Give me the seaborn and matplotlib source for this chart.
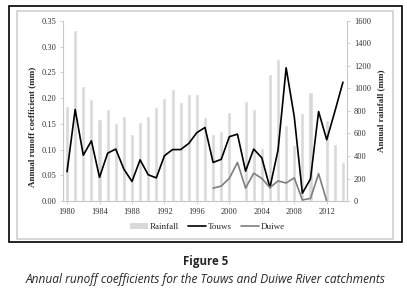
import numpy as np
import pandas as pd
import seaborn as sns
import matplotlib.pyplot as plt
from matplotlib.patches import Rectangle
from matplotlib.lines import Line2D

years = list(range(1980, 2015))
rainfall = [840, 1520, 1020, 910, 725, 815, 690, 755, 595, 705,
            755, 835, 915, 995, 880, 955, 950, 750, 595, 620,
            795, np.nan, 890, 815, 470, 1125, 1265, 675, 500, 780,
            970, np.nan, 720, 505, 345]
touws = [0.057, 0.178, 0.089, 0.117, 0.046, 0.093, 0.101, 0.062, 0.038, 0.080,
         0.051, 0.045, 0.088, 0.100, 0.100, 0.112, 0.133, 0.143, 0.075, 0.081,
         0.125, 0.130, 0.058, 0.101, 0.084, 0.026, 0.099, 0.259, 0.164, 0.015,
         0.043, 0.174, 0.119, 0.174, 0.231]
duiwe_years = list(range(1998, 2013))
duiwe = [0.025, 0.029, 0.044, 0.075, 0.025, 0.054, 0.044, 0.026, 0.039, 0.035,
         0.045, 0.002, 0.005, 0.053, 0.0]
xtick_years = list(range(1980, 2013, 4))

df = pd.DataFrame({'year': years, 'rain': rainfall, 'touws': touws})
df_rain = df.dropna(subset=['rain'])
df_duiwe = pd.DataFrame({'year': duiwe_years, 'duiwe': duiwe})

sns.set_style('white')
plt.rcParams['font.family'] = ['Liberation Serif', 'DejaVu Serif']

fig = plt.figure(figsize=(4.07, 3.0), dpi=100)
ax = fig.add_axes([63 / 407, 99 / 300, 284 / 407, 180 / 300])
ax2 = ax.twinx()

# rainfall bars on the twin (right) axis, pushed behind the runoff lines
sns.barplot(data=df_rain, x='year', y='rain', native_scale=True, color='#d9d9d9',
            saturation=1, width=0.5, errorbar=None, ax=ax2)
ax.set_zorder(ax2.get_zorder() + 1)
ax.patch.set_visible(False)

sns.lineplot(data=df, x='year', y='touws', color='black', linewidth=1.2, ax=ax)
sns.lineplot(data=df_duiwe, x='year', y='duiwe', color='#7f7f7f', linewidth=1.2, ax=ax)

ax.set_xlim(1979.5, 2014.5)
ax.set_ylim(0, 0.35)
ax2.set_ylim(0, 1600)
ax.set_yticks(np.arange(0, 0.351, 0.05))
ax.set_yticklabels([f'{v:.2f}' for v in np.arange(0, 0.351, 0.05)])
ax2.set_yticks(range(0, 1601, 200))
ax.set_xticks(xtick_years)
ax.set_xticklabels([str(y) for y in xtick_years])
ax.set_xlabel('')
ax.set_ylabel('')
ax2.set_ylabel('')

for a in (ax, ax2):
    for s in a.spines.values():
        s.set_visible(False)
ax.spines['left'].set_visible(True)
ax.spines['bottom'].set_visible(True)
ax2.spines['right'].set_visible(True)
for s in (ax.spines['left'], ax.spines['bottom'], ax2.spines['right']):
    s.set_color('#c8c8c8')
    s.set_linewidth(0.8)

ax.tick_params(axis='both', labelsize=6, length=2, width=0.6, color='#c8c8c8',
               labelcolor='#333333', direction='out', pad=3)
ax.tick_params(axis='y', left=True)
ax.tick_params(axis='x', bottom=True)
ax2.tick_params(axis='y', labelsize=6, length=2, width=0.6, color='#c8c8c8',
                labelcolor='#333333', direction='out', pad=3, right=True)

fig.text(32 / 407, 0.577, 'Annual runoff coefficient (mm)', rotation=90,
         ha='center', va='center', fontsize=6.5, fontweight='bold')
fig.text(381 / 407, 0.63, 'Annual rainfall (mm)', rotation=90,
         ha='center', va='center', fontsize=6.5, fontweight='bold')

handles = [Rectangle((0, 0), 1, 1, facecolor='#d9d9d9', edgecolor='none'),
           Line2D([], [], color='black', linewidth=1.2),
           Line2D([], [], color='#7f7f7f', linewidth=1.2)]
fig.legend(handles, ['Rainfall', 'Touws', 'Duiwe'], loc='center',
           bbox_to_anchor=(0.51, 0.243), ncol=3, frameon=False, fontsize=6.5,
           handlelength=2.0, handletextpad=0.2, columnspacing=1.0)

# frames around the chart
fig.patches.append(Rectangle((17 / 407, 1 - 239 / 300), 376 / 407, 228 / 300,
                             transform=fig.transFigure, fill=False,
                             edgecolor='#d0d0d0', linewidth=1.2))
fig.patches.append(Rectangle((9 / 407, 1 - 242 / 300), 393 / 407, 236 / 300,
                             transform=fig.transFigure, fill=False,
                             edgecolor='black', linewidth=1.2))

fig.text(0.506, 0.128, 'Figure 5', ha='center', va='center', fontsize=8.3,
         fontweight='bold', family=['Open Sans', 'DejaVu Sans'])
fig.text(0.504, 0.067, 'Annual runoff coefficients for the Touws and Duiwe River catchments',
         ha='center', va='center', fontsize=8.6, style='italic',
         family=['Open Sans', 'DejaVu Sans'])

fig.savefig('out.png', dpi=100)
